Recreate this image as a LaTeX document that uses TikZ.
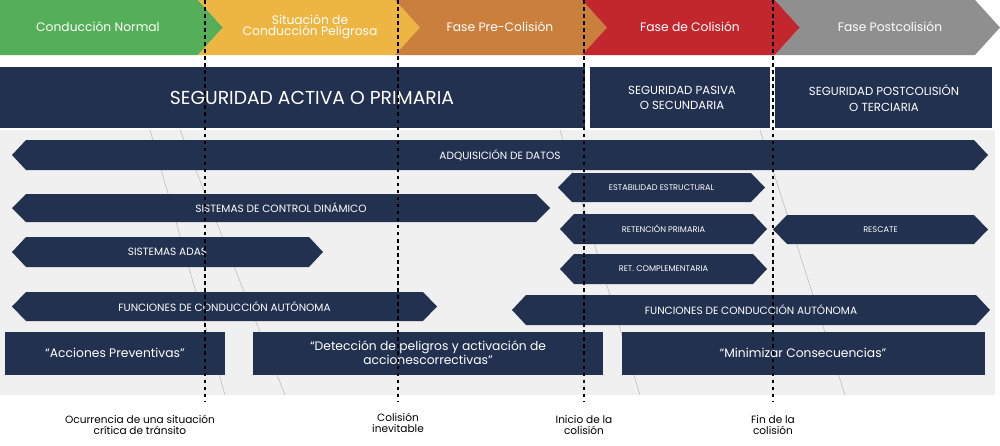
\documentclass[tikz,border=0pt]{standalone}
\usepackage{fontspec}
\setmainfont{Poppins}
\definecolor{navy}{HTML}{223150}
\definecolor{cg}{HTML}{55AE58}
\definecolor{cy}{HTML}{EDB642}
\definecolor{co}{HTML}{CB7F3C}
\definecolor{cr}{HTML}{C1272D}
\definecolor{cgr}{HTML}{8F8F8F}
\newcommand{\hexa}[6]{%
  \fill[navy] (#1,{0.5*(#2+#4)}) -- (#1+14,#2) -- (#3-14,#2) -- (#3,{0.5*(#2+#4)}) -- (#3-14,#4) -- (#1+14,#4) -- cycle;
  \node[lab] (#6) at ({0.5*(#1+#3)},{0.5*(#2+#4)}) {#5};}
\newcommand{\chev}[4]{%
  \fill[#3] (#1,0) -- (#2,0) -- (#2+25,27.5) -- (#2,55) -- (#1,55) -- (#1+#4,27.5) -- cycle;}
\begin{document}
\begin{tikzpicture}[x=0.03cm,y=-0.03cm,
  lab/.style={text=white,font=\fontsize{9}{9}\selectfont},
  ph/.style={text=white,font=\fontsize{10.5}{10}\selectfont,align=center},
  box/.style={fill=navy,text=white,font=\fontsize{10.5}{12}\selectfont,align=center,inner sep=0},
  bl/.style={font=\fontsize{9}{10}\selectfont,align=center},
  dl/.style={black,line width=1.6pt,dash pattern=on 3pt off 3pt}]
\useasboundingbox (0,0) rectangle (1000,446);
\fill[white] (0,0) rectangle (1000,446);
\fill[gray!12] (0,130) rectangle (995,395);
\foreach \a/\b in {150/165,180/225,560/580,760/785}{\draw[gray!60] (\a,130) -- (\b+60,395);}
% chevrons
\chev{0}{198}{cg}{0}
\chev{198}{395}{cy}{25}
\chev{395}{582}{co}{25}
\chev{582}{775}{cr}{25}
\chev{775}{975}{cgr}{25}
\node[ph] (p1) at (98,27) {Conducción Normal};
\node[ph,font=\fontsize{10.5}{9.5}\selectfont] (p2) at (310,27) {Situación de\\Conducción Peligrosa};
\node[ph] (p3) at (500,27) {Fase Pre-Colisión};
\node[ph] (p4) at (690,27) {Fase de Colisión};
\node[ph] (p5) at (890,27) {Fase Postcolisión};
% big bar
\fill[navy] (0,67) rectangle (585,128);
\fill[navy] (590,67) rectangle (770,128);
\fill[navy] (775,67) rectangle (992,128);
\node[text=white,font=\fontsize{16}{16}\selectfont] (sa) at (312,98) {SEGURIDAD ACTIVA O PRIMARIA};
\node[text=white,font=\fontsize{10}{13}\selectfont,align=center] (sp) at (682,98) {SEGURIDAD PASIVA\\O SECUNDARIA};
\node[text=white,font=\fontsize{10}{13}\selectfont,align=center] (st) at (884,98) {SEGURIDAD POSTCOLISIÓN\\O TERCIARIA};
% hexagons
\hexa{12}{140}{988}{170}{ADQUISICIÓN DE DATOS}{h1}
\hexa{558}{173}{765}{202}{\fontsize{7}{7}\selectfont ESTABILIDAD ESTRUCTURAL}{h2}
\hexa{12}{194}{550}{222}{SISTEMAS DE CONTROL DINÁMICO}{h3}
\hexa{560}{214}{767}{244}{\fontsize{7}{7}\selectfont RETENCIÓN PRIMARIA}{h4}
\hexa{773}{215}{988}{244}{\fontsize{7}{7}\selectfont RESCATE}{h5}
\hexa{12}{237}{323}{267}{SISTEMAS ADAS}{h6}
\hexa{12}{292}{437}{321}{FUNCIONES DE CONDUCCIÓN AUTÓNOMA}{h8}
\hexa{560}{254}{767}{284}{\fontsize{7}{7}\selectfont RET. COMPLEMENTARIA}{h7}
\hexa{512}{295}{990}{325}{FUNCIONES DE CONDUCCIÓN AUTÓNOMA}{h9}
\path (h6.center) ++(-45,0) node {}; 
% boxes
\fill[navy] (5,332) rectangle (225,375); \node[box] (b1) at (115,353) {“Acciones Preventivas”};
\fill[navy] (253,332) rectangle (603,375); \node[box] (b2) at (428,353) {“Detección de peligros y activación de\\accionescorrectivas”};
\fill[navy] (622,332) rectangle (985,375); \node[box] (b3) at (803,353) {“Minimizar Consecuencias”};
% dotted lines
\foreach \x in {205,398,584,773}{\draw[dl] (\x,0) -- (\x,402);}
\node[bl] (l1) at (140,425) {Ocurrencia de una situación\\crítica de tránsito};
\node[bl] (l2) at (398,423) {Colisión\\inevitable};
\node[bl] (l3) at (584,425) {Inicio de la\\colisión};
\node[bl] (l4) at (773,425) {Fin de la\\colisión};
\end{tikzpicture}
\end{document}
